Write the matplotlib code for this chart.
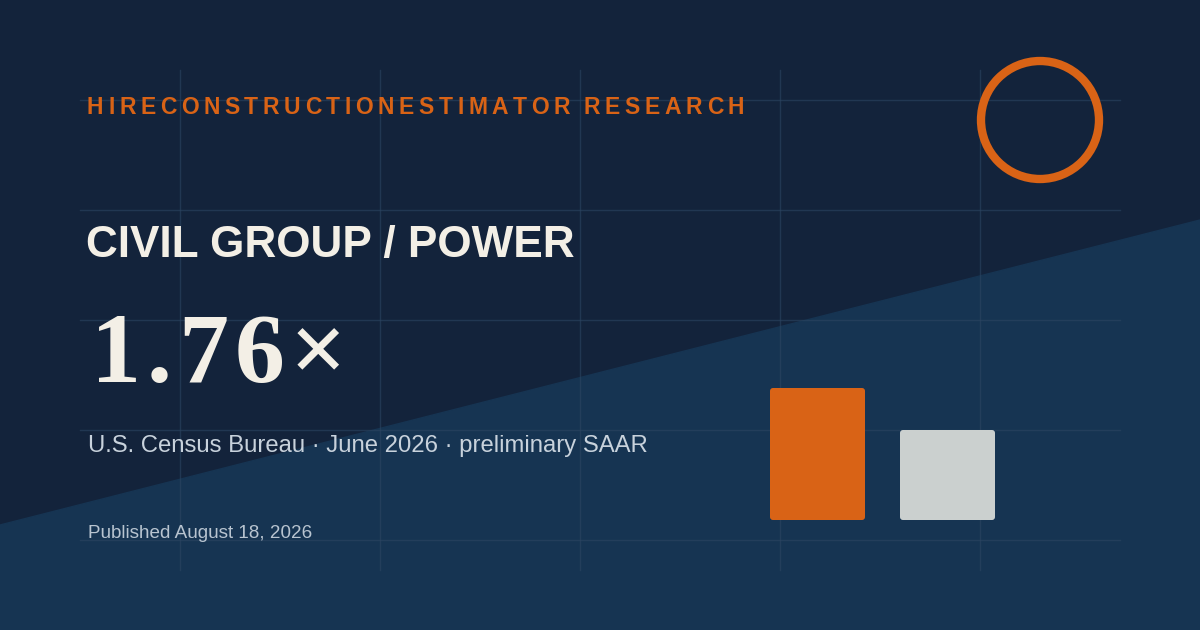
import matplotlib.pyplot as plt
from matplotlib.patches import Polygon, Circle, FancyBboxPatch

brand = "HIRECONSTRUCTIONESTIMATOR RESEARCH"
headline = "CIVIL GROUP / POWER"
ratio_label = "1.76×"
source = "U.S. Census Bureau · June 2026 · preliminary SAAR"
published = "Published August 18, 2026"
bar_heights = [132, 90]          # relative bar heights (px on card)
bar_colors = ["#d96316", "#cbd0cf"]

ORANGE = "#d96316"
fig = plt.figure(figsize=(12, 6.3), dpi=100)
ax = fig.add_axes([0, 0, 1, 1])
ax.set_xlim(0, 1200)
ax.set_ylim(630, 0)
ax.axis("off")
fig.patch.set_facecolor("#13233b")

# lower diagonal band
ax.add_patch(Polygon([(0, 525), (1200, 220), (1200, 630), (0, 630)], color="#163452", zorder=0))

# faint grid
for x in [180, 380, 580, 780, 980]:
    ax.plot([x, x], [70, 570], color="#2c4662", lw=1, alpha=0.6, zorder=1)
for y in [100, 210, 320, 430, 540]:
    ax.plot([80, 1120], [y, y], color="#2c4662", lw=1, alpha=0.6, zorder=1)

# ring
ax.add_patch(Circle((1040, 120), 59, fill=False, ec=ORANGE, lw=6, zorder=2))

# bars
for i, (h, c) in enumerate(zip(bar_heights, bar_colors)):
    x0 = 770 + i * 130
    ax.add_patch(FancyBboxPatch((x0 + 3, 520 - h + 3), 89, h - 6,
                                boxstyle="round,pad=3", fc=c, ec="none", zorder=3))

# letter-spaced brand line
fig.canvas.draw()
r = fig.canvas.get_renderer()
x = 87
for ch in brand:
    t = ax.text(x, 108, ch, color=ORANGE, fontsize=16.5, fontweight="bold",
                family="Liberation Sans", va="center", ha="left")
    bb = t.get_window_extent(r)
    x += bb.width + 4.6 if ch != " " else 9

ax.text(86, 245, headline, color="#f3efe6", fontsize=31.8, fontweight="bold",
        family="Liberation Sans", va="center")

x = 91
for ch in ratio_label:
    t = ax.text(x, 358, ch, color="#f3efe6", fontsize=72, fontweight="bold",
                family="Liberation Serif", va="center", ha="left")
    x += t.get_window_extent(r).width + 6

ax.text(88, 446, source, color="#c8d2dc", fontsize=17.2, family="Liberation Sans", va="center")
ax.text(88, 533, published, color="#b8c4d0", fontsize=13.6, family="Liberation Sans", va="center")

fig.savefig("out.png", dpi=100, facecolor=fig.get_facecolor())
